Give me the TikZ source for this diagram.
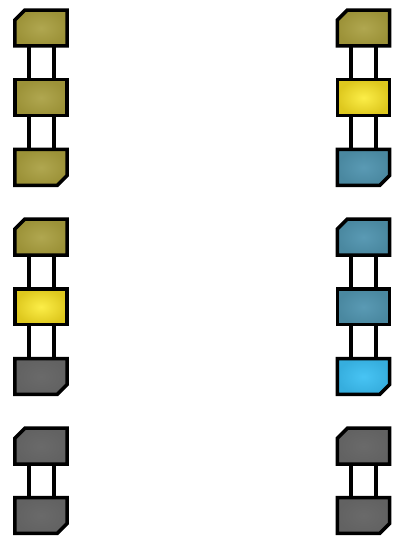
\documentclass[tikz,border=0pt]{standalone}
\usetikzlibrary{calc}
\definecolor{oliveC}{RGB}{176,167,80}
\definecolor{oliveE}{RGB}{156,146,56}
\definecolor{yelC}{RGB}{252,238,72}
\definecolor{yelE}{RGB}{222,200,30}
\definecolor{steelC}{RGB}{90,154,180}
\definecolor{steelE}{RGB}{74,136,160}
\definecolor{skyC}{RGB}{72,196,244}
\definecolor{skyE}{RGB}{54,174,222}
\definecolor{grayC}{RGB}{106,106,106}
\definecolor{grayE}{RGB}{98,98,98}
\tikzset{
  boxnode/.style={minimum width=52pt, minimum height=35.5pt, inner sep=0pt, draw=none},
  boxline/.style={draw=black, line width=3.5pt, line join=miter},
  olivebox/.style={boxline, inner color=oliveC, outer color=oliveE},
  yelbox/.style={boxline, inner color=yelC, outer color=yelE},
  steelbox/.style={boxline, inner color=steelC, outer color=steelE},
  skybox/.style={boxline, inner color=skyC, outer color=skyE},
  graybox/.style={boxline, inner color=grayC, outer color=grayE},
  conn/.style={draw=black, line width=4pt}
}
% top-left chamfered box
\newcommand{\tlbox}[2]{\path[#2] ($(#1.north west)+(0,-10pt)$) -- ($(#1.north west)+(10pt,0)$) -- (#1.north east) -- (#1.south east) -- (#1.south west) -- cycle;}
% bottom-right chamfered box
\newcommand{\brbox}[2]{\path[#2] (#1.north west) -- (#1.north east) -- ($(#1.south east)+(0,10pt)$) -- ($(#1.south east)+(-10pt,0)$) -- (#1.south west) -- cycle;}
% plain box
\newcommand{\plbox}[2]{\path[#2] (#1.north west) -- (#1.north east) -- (#1.south east) -- (#1.south west) -- cycle;}
\newcommand{\linkboxes}[2]{\path[conn] ([xshift=-12.5pt]#1.south) -- ([xshift=-12.5pt]#2.north); \path[conn] ([xshift=12.5pt]#1.south) -- ([xshift=12.5pt]#2.north);}
\begin{document}
\begin{tikzpicture}[x=1pt,y=1pt]
\useasboundingbox (0,0) rectangle (394,540);
% left column nodes
\node[boxnode] (L1) at (41,512) {};
\node[boxnode] (L2) at (41,442.3) {};
\node[boxnode] (L3) at (41,372.6) {};
\node[boxnode] (L4) at (41,302.9) {};
\node[boxnode] (L5) at (41,233.2) {};
\node[boxnode] (L6) at (41,163.5) {};
\node[boxnode] (L7) at (41,93.8) {};
\node[boxnode] (L8) at (41,24.5) {};
% right column nodes
\node[boxnode] (R1) at (363.5,512) {};
\node[boxnode] (R2) at (363.5,442.3) {};
\node[boxnode] (R3) at (363.5,372.6) {};
\node[boxnode] (R4) at (363.5,302.9) {};
\node[boxnode] (R5) at (363.5,233.2) {};
\node[boxnode] (R6) at (363.5,163.5) {};
\node[boxnode] (R7) at (363.5,93.8) {};
\node[boxnode] (R8) at (363.5,24.5) {};
% connectors
\linkboxes{L1}{L2}\linkboxes{L2}{L3}
\linkboxes{L4}{L5}\linkboxes{L5}{L6}
\linkboxes{L7}{L8}
\linkboxes{R1}{R2}\linkboxes{R2}{R3}
\linkboxes{R4}{R5}\linkboxes{R5}{R6}
\linkboxes{R7}{R8}
% left boxes
\tlbox{L1}{olivebox}
\plbox{L2}{olivebox}
\brbox{L3}{olivebox}
\tlbox{L4}{olivebox}
\plbox{L5}{yelbox}
\brbox{L6}{graybox}
\tlbox{L7}{graybox}
\brbox{L8}{graybox}
% right boxes
\tlbox{R1}{olivebox}
\plbox{R2}{yelbox}
\brbox{R3}{steelbox}
\tlbox{R4}{steelbox}
\plbox{R5}{steelbox}
\brbox{R6}{skybox}
\tlbox{R7}{graybox}
\brbox{R8}{graybox}
\end{tikzpicture}
\end{document}
